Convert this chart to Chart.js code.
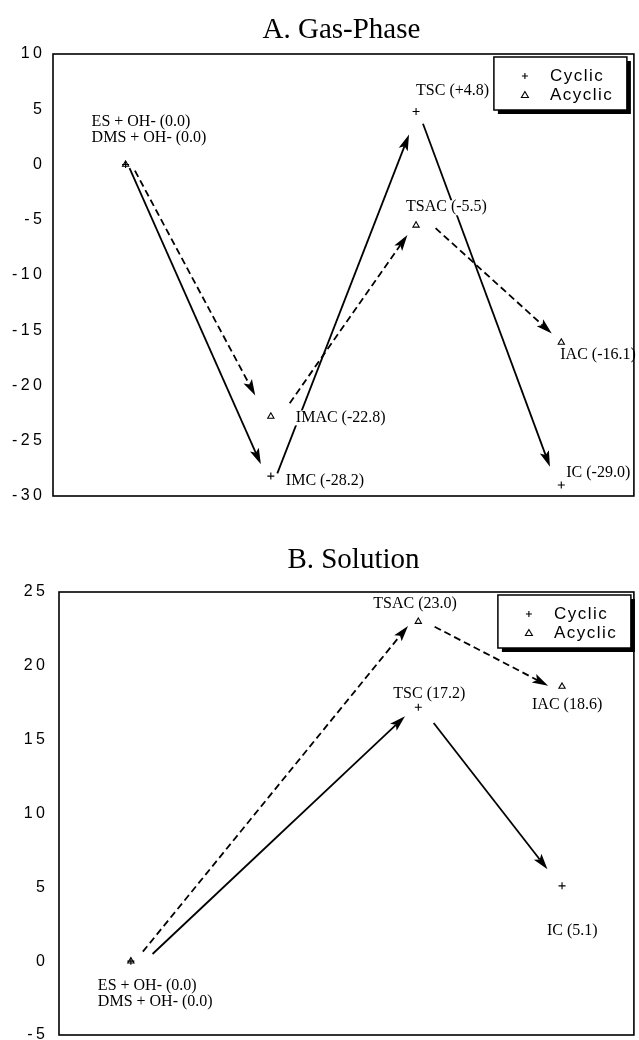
<!DOCTYPE html>
<html><head><meta charset="utf-8">
<script src="https://cdn.jsdelivr.net/npm/chart.js@4.4.0/dist/chart.umd.min.js"></script>
<style>
html,body{margin:0;padding:0;background:#fff;overflow:hidden;}
#wrap{position:relative;width:639px;height:1040px;overflow:hidden;}
.box{position:absolute;left:0;width:639px;}
</style></head><body>
<div id="wrap">
<div class="box" style="top:0;height:520px"><canvas id="gas"></canvas></div>
<div class="box" style="top:520px;height:540px"><canvas id="sol"></canvas></div>
</div>
<script>
// ---------- data ----------
const stages = ['Reactants', 'Intermediate', 'Transition state', 'Product'];
const seriesNames = ['Cyclic', 'Acyclic'];
const gasTitle = 'A. Gas-Phase';
const solTitle = 'B. Solution';
const gasCyclic = [0.0, -28.2, 4.8, -29.0];
const gasAcyclic = [0.0, -22.8, -5.5, -16.1];
const solCyclic = [0.0, null, 17.2, 5.1];
const solAcyclic = [0.0, null, 23.0, 18.6];
const gasCyclicLabels = ['', 'IMC (-28.2)', 'TSC (+4.8)', 'IC (-29.0)'];
const gasAcyclicLabels = ['', 'IMAC (-22.8)', 'TSAC (-5.5)', 'IAC (-16.1)'];
const solCyclicLabels = ['', '', 'TSC (17.2)', 'IC (5.1)'];
const solAcyclicLabels = ['', '', 'TSAC (23.0)', 'IAC (18.6)'];
const reactantLabels = ['ES + OH- (0.0)', 'DMS + OH- (0.0)'];
const gasTicks = [10, 5, 0, -5, -10, -15, -20, -25, -30];
const solTicks = [25, 20, 15, 10, 5, 0, -5];

// ---------- styles (pixel offsets, not data) ----------
const SERIF = "'Liberation Serif', 'Times New Roman', serif";
const SANS = "'Liberation Sans', Arial, sans-serif";
// arrow style per segment: [startGap, endGap, startPerp, endPerp]
const gasStyle = {
  axisWidth: 53, tickPad: 7.5, padTop: 54, padBottom: 24, titleY: 30, titleDx: -2,
  cyclicArrows: [[5, 15, -2, 4], [5, 24, 5, 2], [14, 21, -2, 4]],
  acyclicArrows: [[10, 26, -5, 3], [22, 13, 7, -1], [17, 13, -10, -1]],
  cyclicLabelPos: [null, [15, 5], [0, -21], [5, -12]],
  acyclicLabelPos: [null, [25, 1], [-10, -18], [-1, 12]],
  reactantPos: [[-34, -43], [-34, -27]],
  legendRightGap: 7
};
const solStyle = {
  axisWidth: 59, tickPad: 10.5, padTop: 72, padBottom: 25, titleY: 40, titleDx: 7,
  cyclicArrows: [[21, 16, 9, -2], [22, 22, -2, 1]],
  acyclicArrows: [[15, 10, 3, -5], [17, 13, -2, 5]],
  cyclicLabelPos: [null, null, [-25, -13], [-15, 45]],
  acyclicLabelPos: [null, null, [-45, -18], [-30, 18]],
  reactantPos: [[-33, 25], [-33, 41]],
  legendRightGap: 3
};

function drawArrow(ctx, x1, y1, x2, y2, s, dash) {
  const dx = x2 - x1, dy = y2 - y1, L = Math.hypot(dx, dy);
  const ux = dx / L, uy = dy / L, px = -uy, py = ux;
  const sx = x1 + ux * s[0] + px * s[2], sy = y1 + uy * s[0] + py * s[2];
  const ex = x2 - ux * s[1] + px * s[3], ey = y2 - uy * s[1] + py * s[3];
  const ddx = ex - sx, ddy = ey - sy, LL = Math.hypot(ddx, ddy);
  const vx = ddx / LL, vy = ddy / LL;
  const headLen = 16, headW = 4.8, notch = 3.5;
  ctx.save();
  ctx.strokeStyle = '#000'; ctx.fillStyle = '#000'; ctx.lineWidth = 1.8;
  ctx.setLineDash(dash);
  ctx.beginPath(); ctx.moveTo(sx, sy);
  ctx.lineTo(ex - vx * (headLen - notch), ey - vy * (headLen - notch)); ctx.stroke();
  ctx.setLineDash([]);
  const bx = ex - vx * headLen, by = ey - vy * headLen;
  ctx.beginPath(); ctx.moveTo(ex, ey);
  ctx.lineTo(bx - vy * headW, by + vx * headW);
  ctx.lineTo(ex - vx * (headLen - notch), ey - vy * (headLen - notch));
  ctx.lineTo(bx + vy * headW, by - vx * headW);
  ctx.closePath(); ctx.fill();
  ctx.restore();
}

function drawLabel(ctx, text, x, y) {
  ctx.font = '16px ' + SERIF;
  ctx.textAlign = 'left'; ctx.textBaseline = 'middle';
  const w = ctx.measureText(text).width;
  ctx.fillStyle = '#fff';
  ctx.fillRect(x - 3, y - 7, w + 6, 15);
  ctx.fillStyle = '#000';
  ctx.fillText(text, x, y);
}

const diagramPlugin = {
  id: 'diagram',
  beforeDraw(chart) { chart.ctx.letterSpacing = '3.5px'; },
  beforeDatasetsDraw(chart) { chart.ctx.letterSpacing = '0px'; },
  afterDatasetsDraw(chart) {
    const ctx = chart.ctx;
    const st = chart.options.plugins.diagram;
    ctx.save();
    ctx.letterSpacing = '0px';
    chart.data.datasets.forEach((ds, di) => {
      const meta = chart.getDatasetMeta(di);
      const pts = meta.data.filter((el, i) => ds.data[i] !== null && ds.data[i] !== undefined);
      const arrows = di === 0 ? st.cyclicArrows : st.acyclicArrows;
      for (let k = 0; k < pts.length - 1; k++) {
        drawArrow(ctx, pts[k].x, pts[k].y, pts[k + 1].x, pts[k + 1].y, arrows[k], ds.arrowDash);
      }
    });
    chart.data.datasets.forEach((ds, di) => {
      const meta = chart.getDatasetMeta(di);
      const pos = di === 0 ? st.cyclicLabelPos : st.acyclicLabelPos;
      ds.pointLabels.forEach((t, i) => {
        if (!t || !pos[i]) return;
        const el = meta.data[i];
        drawLabel(ctx, t, el.x + pos[i][0], el.y + pos[i][1]);
      });
    });
    const r = chart.getDatasetMeta(0).data[0];
    reactantLabels.forEach((t, i) => drawLabel(ctx, t, r.x + st.reactantPos[i][0], r.y + st.reactantPos[i][1]));
    ctx.restore();
  },
  afterDraw(chart) {
    const ctx = chart.ctx, a = chart.chartArea;
    const st = chart.options.plugins.diagram;
    ctx.save();
    ctx.letterSpacing = '0px';
    ctx.strokeStyle = '#000'; ctx.lineWidth = 1.6;
    ctx.strokeRect(a.left, a.top, a.right - a.left, a.bottom - a.top);
    ctx.font = '29px ' + SERIF; ctx.fillStyle = '#000';
    ctx.textAlign = 'center'; ctx.textBaseline = 'middle';
    ctx.fillText(st.title, (a.left + a.right) / 2 + st.titleDx, st.titleY);
    const w = 133, h = 53;
    const lx = a.right - st.legendRightGap - w, ly = a.top + 3;
    ctx.fillStyle = '#000'; ctx.fillRect(lx + 4, ly + 4, w, h);
    ctx.fillStyle = '#fff'; ctx.fillRect(lx, ly, w, h);
    ctx.lineWidth = 1.5; ctx.strokeStyle = '#000'; ctx.strokeRect(lx, ly, w, h);
    ctx.font = '17px ' + SANS; ctx.letterSpacing = '1.5px';
    ctx.textAlign = 'left'; ctx.fillStyle = '#000';
    chart.data.datasets.forEach((ds, di) => {
      const y = ly + 19 + di * 19, mx = lx + 31;
      ctx.lineWidth = 1.1;
      if (ds.pointStyle === 'cross') {
        ctx.beginPath(); ctx.moveTo(mx - 3, y); ctx.lineTo(mx + 3, y);
        ctx.moveTo(mx, y - 3); ctx.lineTo(mx, y + 3); ctx.stroke();
      } else {
        ctx.beginPath(); ctx.moveTo(mx, y - 3.5); ctx.lineTo(mx + 3.5, y + 2.5); ctx.lineTo(mx - 3.5, y + 2.5);
        ctx.closePath(); ctx.stroke();
      }
      ctx.fillText(ds.label, lx + 56, y);
    });
    ctx.restore();
  }
};

function makeChart(id, cyc, acyc, cycLab, acycLab, ticks, st, title) {
  st.title = title;
  return new Chart(document.getElementById(id), {
    type: 'line',
    data: {
      labels: stages,
      datasets: [
        { label: seriesNames[0], data: cyc, pointLabels: cycLab, arrowDash: [],
          showLine: false, pointStyle: 'cross', pointRadius: 3.5, pointBorderWidth: 1.1,
          pointBorderColor: '#000', pointBackgroundColor: '#000', borderColor: '#000' },
        { label: seriesNames[1], data: acyc, pointLabels: acycLab, arrowDash: [7, 4],
          showLine: false, pointStyle: 'triangle', pointRadius: 3.6, pointBorderWidth: 1.1,
          pointBorderColor: '#000', pointBackgroundColor: '#fff', borderColor: '#000' }
      ]
    },
    options: {
      responsive: true, maintainAspectRatio: false, animation: false, events: [],
      layout: { padding: { top: st.padTop, bottom: st.padBottom, left: 0, right: 2 } },
      plugins: { legend: { display: false }, title: { display: false }, tooltip: { enabled: false }, diagram: st },
      scales: {
        x: { type: 'category', offset: true, display: false },
        y: {
          min: Math.min(...ticks), max: Math.max(...ticks),
          grid: { display: false, drawTicks: false }, border: { display: false },
          afterFit(scale) { scale.width = st.axisWidth; },
          ticks: { stepSize: 5, autoSkip: false, padding: st.tickPad, color: '#000',
                   font: { family: SANS, size: 16 } }
        }
      }
    },
    plugins: [diagramPlugin]
  });
}

makeChart('gas', gasCyclic, gasAcyclic, gasCyclicLabels, gasAcyclicLabels, gasTicks, gasStyle, gasTitle);
makeChart('sol', solCyclic, solAcyclic, solCyclicLabels, solAcyclicLabels, solTicks, solStyle, solTitle);
</script>
</body></html>
